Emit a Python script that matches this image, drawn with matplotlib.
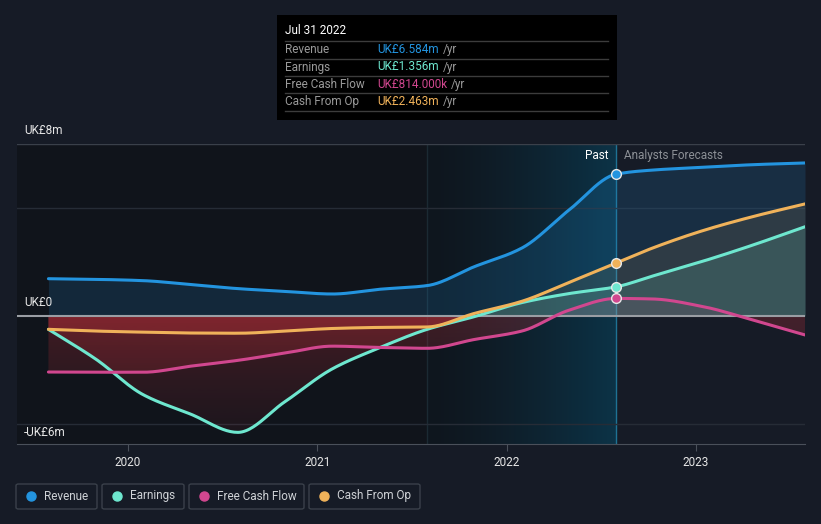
import numpy as np
import matplotlib
matplotlib.use("Agg")
import matplotlib.pyplot as plt
from matplotlib.patches import Rectangle, FancyBboxPatch
from matplotlib.colors import to_rgb

plt.rcParams['font.family'] = ['Roboto', 'DejaVu Sans']

# data, UK£ millions, x in decimal years
past_x = [2019.58, 2019.83, 2020.08, 2020.33, 2020.58, 2020.83, 2021.08,
          2021.33, 2021.58, 2021.83, 2022.08, 2022.33, 2022.58]
fc_x = [2022.77, 2023.04, 2023.30, 2023.576]

revenue_past = [1.73, 1.70, 1.64, 1.46, 1.27, 1.14, 1.02, 1.24, 1.41, 2.29, 3.15, 4.92, 6.584]
revenue_fc = [6.77, 6.90, 7.02, 7.10]
earnings_past = [-0.62, -2.0, -3.65, -4.55, -5.40, -3.97, -2.45, -1.47, -0.62, -0.03, 0.62, 1.04, 1.356]
earnings_fc = [1.85, 2.55, 3.29, 4.14]
fcf_past = [-2.60, -2.61, -2.61, -2.33, -2.06, -1.72, -1.40, -1.46, -1.50, -1.09, -0.70, 0.27, 0.814]
fcf_fc = [0.79, 0.43, -0.19, -0.88]
cfo_past = [-0.62, -0.70, -0.75, -0.79, -0.80, -0.70, -0.58, -0.53, -0.51, 0.12, 0.68, 1.56, 2.463]
cfo_fc = [3.15, 3.97, 4.61, 5.20]

names = ["Revenue", "Earnings", "Free Cash Flow", "Cash From Op"]
colors = ["#2394df", "#6ee7cf", "#d1478f", "#f0b25a"]
tip_values = ["UK£6.584m", "UK£1.356m", "UK£814.000k", "UK£2.463m"]
year_ticks = [2020, 2021, 2022, 2023]
y_labels = [(131, "UK£8m"), (303, "UK£0"), (432, "-UK£6m")]

now_x = 2022.58
xlim = (2019.414, 2023.576)
ylim = (-5.94, 7.98)


def monotone(x, y, n=400):
    # monotone cubic for a smooth drawn curve
    x = np.asarray(x, float)
    y = np.asarray(y, float)
    h = np.diff(x)
    d = np.diff(y) / h
    m = np.zeros_like(y)
    m[0], m[-1] = d[0], d[-1]
    for i in range(1, len(y) - 1):
        if d[i - 1] * d[i] <= 0:
            m[i] = 0
        else:
            w1 = 2 * h[i] + h[i - 1]
            w2 = h[i] + 2 * h[i - 1]
            m[i] = (w1 + w2) / (w1 / d[i - 1] + w2 / d[i])
    xs = np.linspace(x[0], x[-1], n)
    k = np.clip(np.searchsorted(x, xs) - 1, 0, len(x) - 2)
    t = (xs - x[k]) / h[k]
    h00 = 2 * t**3 - 3 * t**2 + 1
    h10 = t**3 - 2 * t**2 + t
    h01 = -2 * t**3 + 3 * t**2
    h11 = t**3 - t**2
    ys = h00 * y[k] + h10 * h[k] * m[k] + h01 * y[k + 1] + h11 * h[k] * m[k + 1]
    return xs, ys


fig = plt.figure(figsize=(8.21, 5.24), dpi=100)
fig.patch.set_facecolor("#161b26")
W, H = 821, 524
ax = fig.add_axes([17 / W, 1 - 444 / H, (805 - 17) / W, (444 - 144) / H])
ax.set_facecolor("#161b26")
ax.set_xlim(*xlim)
ax.set_ylim(*ylim)

# backgrounds
ax.axvspan(xlim[0], now_x - 1, color="#10141b", zorder=0, lw=0)
grad = np.zeros((1, 200, 4))
c0 = np.array(to_rgb("#0f161e"))
c1 = np.array(to_rgb("#0c3347"))
tt = np.linspace(0, 1, 200)
grad[0, :, :3] = c0 + (c1 - c0) * tt[:, None] ** 1.4
grad[0, :, 3] = 1
ax.imshow(grad, extent=[now_x - 1, now_x, ylim[0], ylim[1]], aspect="auto", zorder=0.1)
ax.axvline(now_x - 1, color="#1b2a33", lw=1, zorder=0.2)
ax.axvline(now_x, color="#1f7294", lw=1, zorder=0.2)

# grid
for g in [5, -5]:
    ax.axhline(g, color="#262c36", lw=1, zorder=0.5)
ax.axhline(ylim[1], color="#3a404a", lw=1, zorder=0.5)

series = [(revenue_past, revenue_fc), (earnings_past, earnings_fc),
          (fcf_past, fcf_fc), (cfo_past, cfo_fc)]
fill_alpha = [0.16, 0.16, 0.10, 0.10]

red = np.array([0.82, 0.20, 0.24])
for (p, f), col, fa in zip(series, colors, fill_alpha):
    xs, ys = monotone(past_x + fc_x, p + f)
    ax.fill_between(xs, 0, np.clip(ys, 0, None), color=col, alpha=fa, lw=0, zorder=1)
    neg = ax.fill_between(xs, 0, np.clip(ys, None, 0), color="none", lw=0, zorder=1)
    if ys.min() < 0:
        img = np.zeros((100, 1, 4))
        img[:, 0, :3] = red
        img[:, 0, 3] = np.linspace(0.25, 0.05, 100)
        im = ax.imshow(img, extent=[xlim[0], xlim[1], ylim[0], 0], aspect="auto", zorder=1.1)
        im.set_clip_path(neg.get_paths()[0], transform=ax.transData)
    ax.plot(xs, ys, color=col, lw=2.2, zorder=3, solid_capstyle="round")
    ax.plot([now_x], [p[-1]], "o", ms=7, color=col, mec="#e8e8e8", mew=1, zorder=4)

ax.axhline(0, color="#9a9ea4", lw=1.5, zorder=2.5)

# axes styling
for s in ["top", "right", "left"]:
    ax.spines[s].set_visible(False)
ax.spines["bottom"].set_color("#4a505a")
ax.set_yticks([])
ax.set_xticks(year_ticks)
ax.set_xticklabels([str(y) for y in year_ticks])
ax.tick_params(axis="x", colors="#4a505a", length=5, labelcolor="#e6e6e6", labelsize=8.5, pad=4)

for yp, lab in y_labels:
    fig.text(24 / W, 1 - yp / H, lab, color="#e6e6e6", fontsize=8.5, va="center", ha="left")

fig.text(608 / W, 1 - 156 / H, "Past", color="#ffffff", fontsize=8.5, va="center", ha="right")
fig.text(624 / W, 1 - 156 / H, "Analysts Forecasts", color="#8c9096", fontsize=8.5, va="center", ha="left")

# tooltip
fig.patches.append(Rectangle((277 / W, 1 - 120 / H), 340 / W, 105 / H, transform=fig.transFigure,
                             facecolor="#000000", edgecolor="none", zorder=5))
fig.text(285 / W, 1 - 31 / H, "Jul 31 2022", color="#ffffff", fontsize=8.5, va="center", zorder=6)
for yl in [41, 58.5, 76, 93, 111]:
    fig.add_artist(plt.Line2D([285 / W, 608 / W], [1 - yl / H] * 2, color="#3c3c3c", lw=1, zorder=6))
for i, (nm, val, col) in enumerate(zip(names, tip_values, colors)):
    yr = 49.5 + i * 17.5
    fig.text(285 / W, 1 - yr / H, nm, color="#9a9a9a", fontsize=8.5, va="center", zorder=6)
    t = fig.text(377 / W, 1 - yr / H, val, color=col, fontsize=8.5, va="center", zorder=6)
    fig.canvas.draw()
    bb = t.get_window_extent()
    fig.text((bb.x1 + 4) / W, 1 - yr / H, "/yr", color="#9a9a9a", fontsize=8.5, va="center", zorder=6)

# legend
boxes = [(16, 97), (102, 184), (189, 304), (309, 420)]
for (x0, x1), nm, col in zip(boxes, names, colors):
    fig.patches.append(FancyBboxPatch((x0 / W, 1 - 509 / H), (x1 - x0) / W, 25 / H,
                                      boxstyle="round,pad=0,rounding_size=0.003",
                                      transform=fig.transFigure, facecolor="none",
                                      edgecolor="#3a404a", lw=1))
    fig.add_artist(plt.Line2D([(x0 + 15) / W], [1 - 496 / H], marker="o", ms=6.5, color=col,
                              mec=col, transform=fig.transFigure))
    fig.text((x0 + 28) / W, 1 - 496 / H, nm, color="#cfd2d6", fontsize=8.5, va="center", ha="left")

fig.savefig("out.png", dpi=100, facecolor=fig.get_facecolor())
